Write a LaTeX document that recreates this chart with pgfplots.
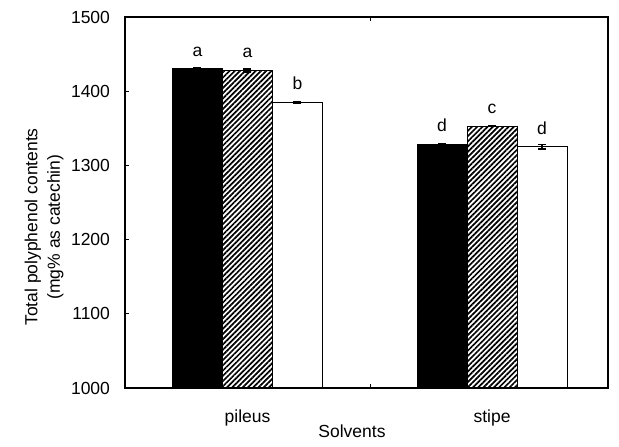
\documentclass[border=0pt]{standalone}
\usepackage{fontspec}
\setmainfont{Liberation Sans}
\usepackage{pgfplots}
\usepackage{pgfplotstable}
\pgfplotsset{compat=1.18}
\usetikzlibrary{patterns.meta}

% x: 1 = pileus, 2 = stipe; e = error; l = letter above bar
\pgfplotstableread{
x y e l
1 1430 2.0 a
2 1328 2.0 d
}\solA
\pgfplotstableread{
x y e l
1 1428 2.0 a
2 1353 0.5 c
}\solB
\pgfplotstableread{
x y e l
1 1385 1.5 b
2 1325 3.0 d
}\solC

\begin{document}
\fontsize{17.5}{22}\selectfont
\begin{tikzpicture}
\path[use as bounding box] (-125pt,-59pt) rectangle (494pt,388pt);
\begin{axis}[
    scale only axis,
    width=483pt, height=371pt,
    ybar,
    bar width=50pt,
    xmin=0.499, xmax=2.4744,
    ymin=1000, ymax=1500,
    ytick={1000,1100,...,1500},
    xtick={1,2},
    xticklabels={pileus,stipe},
    xtick style={draw=none},
    extra x ticks={1.505},
    extra x tick labels={},
    extra x tick style={xtick style={draw=black, line width=1pt}},
    ytick pos=left,
    tick align=inside,
    major tick length=4pt,
    ytick style={line width=1pt, black},
    axis line style={line width=1.2pt},
    tick label style={font=\fontsize{17.5}{22}\selectfont},
    label style={font=\fontsize{17.5}{22.5}\selectfont},
    /pgf/number format/assume math mode=true,
    /pgf/number format/1000 sep={},
    yticklabel style={xshift=-9pt},
    xticklabel style={yshift=-16pt},
    xlabel={Solvents},
    xlabel style={at={(axis description cs:0.47,0)}, anchor=north, yshift=-31pt},
    ylabel={Total polyphenol contents\\(mg\% as catechin)},
    ylabel style={align=center, at={(axis description cs:0,0.434)}, anchor=center, yshift=81pt},
    nodes near coords,
    point meta=explicit symbolic,
    every node near coord/.append style={anchor=south, inner sep=0pt, yshift=12pt, black, font=\fontsize{17.5}{22}\selectfont},
    error bars/y dir=both,
    error bars/y explicit,
    error bars/error bar style={line width=1.2pt, black},
    error bars/error mark options={rotate=90, mark size=4pt, line width=1.2pt, black},
]
\addplot[draw=black, line width=1pt, fill=black, bar shift=-50pt]
    table[x=x, y=y, y error=e, meta=l] {\solA};
\addplot[draw=black, line width=1pt, pattern={Lines[angle=45, distance=3.7pt, line width=1.7pt]}, bar shift=0pt]
    table[x=x, y=y, y error=e, meta=l] {\solB};
\addplot[draw=black, line width=1pt, fill=white, bar shift=50pt]
    table[x=x, y=y, y error=e, meta=l] {\solC};
\end{axis}
\end{tikzpicture}
\end{document}
